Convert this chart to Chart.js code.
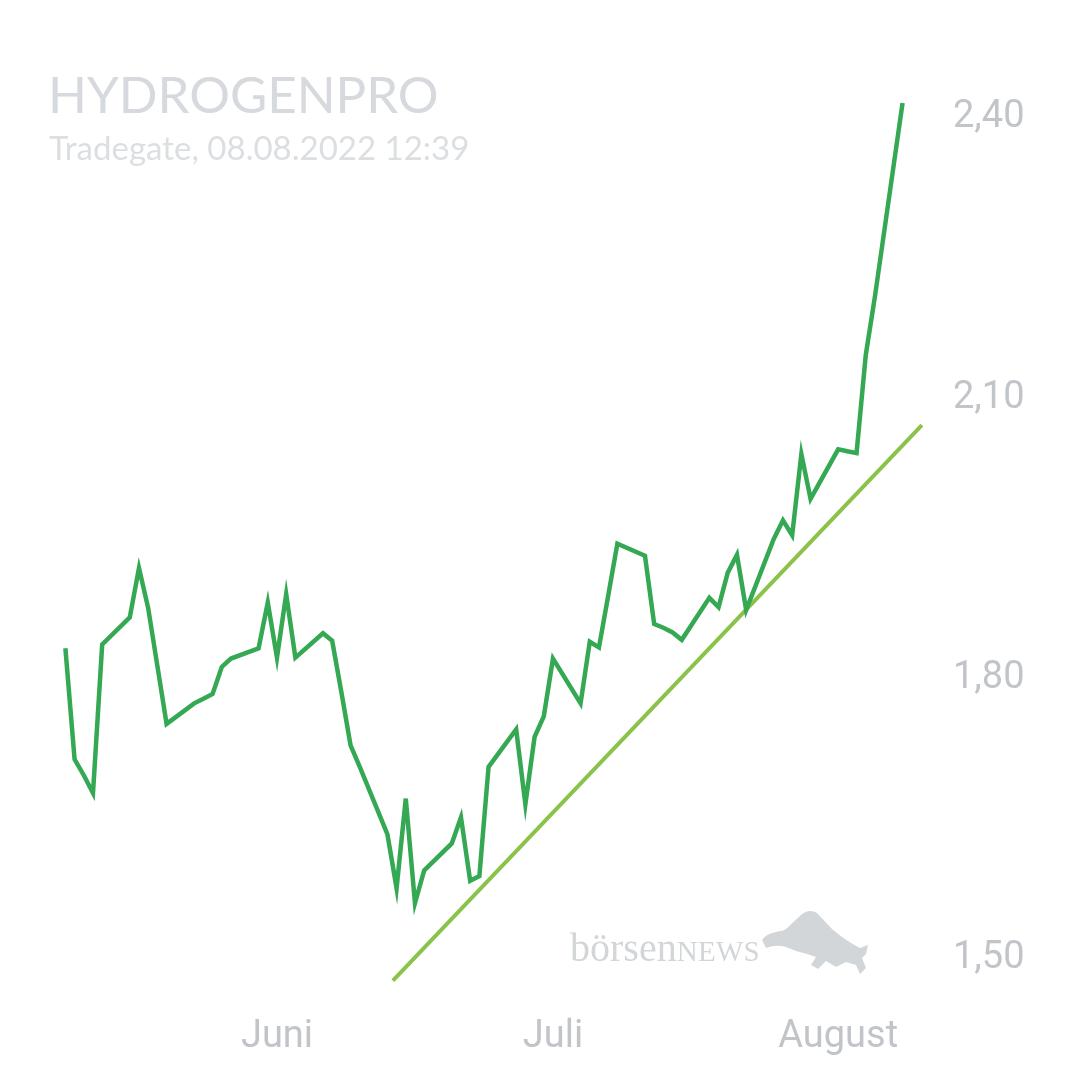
<!DOCTYPE html>
<html>
<head>
<meta charset="utf-8">
<script src="https://cdn.jsdelivr.net/npm/chart.js@4/dist/chart.umd.min.js"></script>
<style>
  html, body { margin: 0; padding: 0; background: #fff; }
  #wrap { position: relative; width: 1080px; height: 1080px; overflow: hidden; }
  #chart { position: absolute; left: 0; top: 0; }
  .title { position: absolute; left: 48px; top: 63px; font: 400 51px Lato, sans-serif; color: #d6d9dd; }
  .sub { position: absolute; left: 49px; top: 127px; font: 400 33px Lato, sans-serif; color: #dcdfe2; }
  .brand { position: absolute; left: 570px; top: 924px; font: 400 40px "Liberation Serif", serif; color: #d3d6d9; }
  .brand span { font-size: 29px; letter-spacing: 0.3px; }
  .bull { position: absolute; left: 756px; top: 906px; }
</style>
</head>
<body>
<div id="wrap">
  <canvas id="chart" width="1080" height="1080"></canvas>
  <div class="title">HYDROGENPRO</div>
  <div class="sub">Tradegate, 08.08.2022 12:39</div>
  <div class="brand">börsen<span>NEWS</span></div>
  <svg class="bull" width="120" height="72" viewBox="0 0 120 72">
    <path fill="#d3d6d9" d="M6,34 C14,24 24,27 30,23 L45,9 Q53,2 61,7 L76,23 Q90,35 104,42 L112,39 L110,48 L106,52 L110,62 L104,68 L100,59 L90,56 L80,61 L70,55 L62,63 L55,59 L60,51 L51,48 L40,45 L30,41 Q20,38 10,42 Z"/>
  </svg>
</div>
<script>
// HydrogenPro, Tradegate, daily closes
const dates = [
  '2022-05-09', '2022-05-10', '2022-05-11', '2022-05-12', '2022-05-13',
  '2022-05-16', '2022-05-17', '2022-05-18', '2022-05-19', '2022-05-20',
  '2022-05-23', '2022-05-24', '2022-05-25', '2022-05-26', '2022-05-27',
  '2022-05-30', '2022-05-31', '2022-06-01', '2022-06-02', '2022-06-03',
  '2022-06-06', '2022-06-07', '2022-06-08', '2022-06-09', '2022-06-10',
  '2022-06-13', '2022-06-14', '2022-06-15', '2022-06-16', '2022-06-17',
  '2022-06-20', '2022-06-21', '2022-06-22', '2022-06-23', '2022-06-24',
  '2022-06-27', '2022-06-28', '2022-06-29', '2022-06-30', '2022-07-01',
  '2022-07-04', '2022-07-05', '2022-07-06', '2022-07-07', '2022-07-08',
  '2022-07-11', '2022-07-12', '2022-07-13', '2022-07-14', '2022-07-15',
  '2022-07-18', '2022-07-19', '2022-07-20', '2022-07-21', '2022-07-22',
  '2022-07-25', '2022-07-26', '2022-07-27', '2022-07-28', '2022-07-29',
  '2022-08-01', '2022-08-02', '2022-08-03', '2022-08-04', '2022-08-05',
  '2022-08-08'
];
const prices = [
  1.832, 1.713, 1.696, 1.677, 1.836,
  1.865, 1.918, 1.875, 1.813, 1.751,
  1.773, 1.778, 1.783, 1.812, 1.821,
  1.832, 1.881, 1.822, 1.890, 1.822,
  1.848, 1.840, 1.785, 1.728, 1.705,
  1.633, 1.575, 1.671, 1.559, 1.594,
  1.623, 1.651, 1.583, 1.588, 1.705,
  1.745, 1.665, 1.737, 1.759, 1.821,
  1.773, 1.839, 1.833, 1.888, 1.944,
  1.931, 1.858, 1.854, 1.849, 1.841,
  1.886, 1.876, 1.913, 1.932, 1.873,
  1.949, 1.969, 1.953, 2.040, 1.992,
  2.045, 2.043, 2.041, 2.146, 2.209,
  2.416
];

// trend line (days after 1 June, value)
const trendDays = [12.6, 70.1];
const trendValues = [1.476, 2.071];

const monthDays = [0, 30, 61];
const monthLabels = ['Juni', 'Juli', 'August'];
const priceTicks = [1.5, 1.8, 2.1, 2.4];

const dayZero = Date.UTC(2022, 5, 1);
function dayOf(s) {
    const p = s.split('-');
    return (Date.UTC(+p[0], +p[1] - 1, +p[2]) - dayZero) / 86400000;
}

new Chart(document.getElementById('chart'), {
    type: 'line',
    data: {
        datasets: [{
            data: dates.map((d, i) => ({ x: dayOf(d), y: prices[i] })),
            borderColor: '#34a853',
            borderWidth: 4.5,
            borderJoinStyle: 'miter',
            pointRadius: 0,
            tension: 0
        }, {
            data: trendDays.map((d, i) => ({ x: d, y: trendValues[i] })),
            borderColor: '#8bc34a',
            borderWidth: 4,
            pointRadius: 0,
            tension: 0
        }]
    },
    options: {
        responsive: false,
        animation: false,
        layout: { padding: { left: 40, top: 60, right: 0, bottom: 0 } },
        plugins: { legend: { display: false }, tooltip: { enabled: false } },
        scales: {
            x: {
                type: 'linear',
                min: -25.76,
                max: 72.07,
                grid: { display: false, drawTicks: false },
                border: { display: false },
                afterBuildTicks: s => { s.ticks = monthDays.map(v => ({ value: v })); },
                afterFit: s => { s.height = 90; },
                ticks: {
                    padding: 25,
                    color: '#c1c4c9',
                    font: { family: 'Roboto', size: 38 },
                    maxRotation: 0,
                    autoSkip: false,
                    callback: v => monthLabels[monthDays.indexOf(v)]
                }
            },
            y: {
                position: 'right',
                min: 1.466,
                max: 2.462,
                grid: { display: false, drawTicks: false },
                border: { display: false },
                afterBuildTicks: s => { s.ticks = priceTicks.map(v => ({ value: v })); },
                afterFit: s => { s.width = 140; },
                ticks: {
                    padding: 13,
                    color: '#c1c4c9',
                    font: { family: 'Roboto', size: 38 },
                    callback: v => v.toFixed(2).replace('.', ',')
                }
            }
        }
    }
});
</script>
</body>
</html>
